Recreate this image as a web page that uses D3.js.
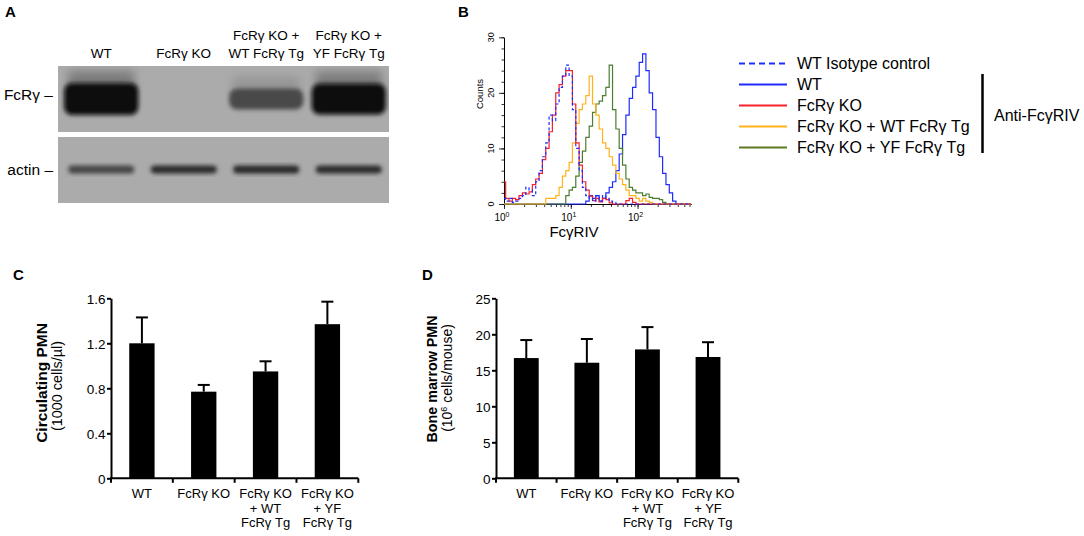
<!DOCTYPE html>
<html>
<head>
<meta charset="utf-8">
<script src="https://cdn.jsdelivr.net/npm/d3@7"></script>
<style>
  body { margin: 0; background: #fff; }
  text { font-family: "Liberation Sans", Arial, sans-serif; fill: #000; }
</style>
</head>
<body>
<div id="fig"></div>
<script>
// ---------- data ----------
// A: western blot lanes and band strength (0 = none, 1 = saturated)
const lanes = ["WT", "FcRγ KO", "FcRγ KO + WT FcRγ Tg", "FcRγ KO + YF FcRγ Tg"];
const laneLabels = [["WT"], ["FcRγ KO"], ["FcRγ KO +", "WT FcRγ Tg"], ["FcRγ KO +", "YF FcRγ Tg"]];
const fcrgBand = [1.0, 0, 0.45, 0.95];
const actinBand = [0.62, 0.78, 0.8, 0.78];

// B: flow histogram, bin centres (fluorescence) and counts per series
const flowBins = [1.00, 1.12, 1.26, 1.41, 1.58, 1.78, 2.00, 2.24, 2.51, 2.82,
  3.16, 3.55, 3.98, 4.47, 5.01, 5.62, 6.31, 7.08, 7.94, 8.91,
  10.0, 11.2, 12.6, 14.1, 15.8, 17.8, 20.0, 22.4, 25.1, 28.2,
  31.6, 35.5, 39.8, 44.7, 50.1, 56.2, 63.1, 70.8, 79.4, 89.1,
  100, 112, 126, 141, 158, 178, 200, 224, 251, 282,
  316, 355, 398, 447, 501, 562, 631];
const isotypeCounts = [1, 0.5, 1, 0.3, 0.5, 1, 1.5, 3, 2.5, 1.5,
  4, 6, 8.5, 11, 16, 15, 18, 21, 23, 25,
  23, 17, 10, 6, 3, 1.5, 1, 0.5, 1.5, 0.5,
  1.5, 1, 0.5, 0.3, 0, 0, 0, 0, 0, 0,
  0, 0, 0, 0, 0, 0, 0, 0, 0, 0,
  0, 0, 0, 0, 0, 0, 0];
const wtCounts = [0, 0, 0, 0, 0, 0, 0, 0, 0, 0,
  0, 0, 0, 0, 0, 0, 0, 0, 0, 0,
  0, 0, 0, 0, 0, 0.5, 1.5, 1, 1.5, 0.5,
  1, 2, 3, 4, 6, 9, 12.5, 16, 19, 21,
  23, 25.5, 27, 24, 20, 17, 12, 8.5, 5.5, 3.5,
  2, 0.5, 0, 0, 0, 0, 0];
const koCounts = [4, 1, 0.5, 1, 0.8, 1.5, 2, 1.8, 2.2, 3.5,
  4.5, 5.5, 8, 10, 13, 16, 20, 21.5, 23, 24,
  24, 18, 11, 7, 4, 2.5, 1.4, 0.6, 1, 0.4,
  1, 0.8, 0.2, 0, 0, 0, 0, 0.6, 1, 0.3,
  0, 0, 0, 0, 0, 0, 0, 0, 0, 0,
  0, 0, 0, 0, 0, 0, 0];
const wtTgCounts = [0, 0, 0, 0, 0, 0, 0, 0, 0, 0,
  0, 0, 0, 1, 1, 1, 1.5, 3, 5, 6,
  7.5, 11, 14.5, 17, 18, 19.5, 23, 18, 16, 13.5,
  11, 10, 8.5, 7, 5.5, 4.5, 3.5, 2.5, 1.5, 1.5,
  1, 0.5, 1, 0.5, 0.3, 0, 0, 0, 0, 0,
  0, 0, 0, 0, 0, 0, 0];
const yfTgCounts = [0, 0, 0, 0, 0, 0, 0, 0, 0, 0,
  0, 0, 0, 0, 0, 0, 0, 0, 0, 1.5,
  2.5, 3, 5, 7.5, 9.5, 12, 14, 16.5, 18, 18.5,
  19.5, 21, 25, 17, 13.5, 10, 7, 4.5, 3, 2.5,
  2, 2, 1.5, 1.8, 1.2, 1, 1, 0.8, 0.3, 0,
  0, 0, 0, 0, 0, 0, 0];
const legendLabels = ["WT Isotype control", "WT", "FcRγ KO", "FcRγ KO + WT FcRγ Tg", "FcRγ KO + YF FcRγ Tg"];

// C and D: PMN counts, mean and upper error
const groups = ["WT", "FcRγ KO", "FcRγ KO + WT FcRγ Tg", "FcRγ KO + YF FcRγ Tg"];
const groupLabels = [["WT"], ["FcRγ KO"], ["FcRγ KO", "+ WT", "FcRγ Tg"], ["FcRγ KO", "+ YF", "FcRγ Tg"]];
const bloodPMN = [1.2, 0.77, 0.95, 1.37];
const bloodPMNErr = [0.23, 0.06, 0.09, 0.2];
const bloodTicks = [0, 0.4, 0.8, 1.2, 1.6];
const marrowPMN = [16.7, 16.05, 17.9, 16.85];
const marrowPMNErr = [2.5, 3.3, 3.1, 2.05];
const marrowTicks = [0, 5, 10, 15, 20, 25];

// ---------- figure ----------
const svg = d3.select("#fig").append("svg")
    .attr("width", 1084)
    .attr("height", 536)
    .style("background", "#fff");

const defs = svg.append("defs");
defs.append("filter").attr("id", "blur")
    .attr("x", "-20%").attr("y", "-40%").attr("width", "140%").attr("height", "180%")
    .append("feGaussianBlur").attr("stdDeviation", 2);
defs.append("filter").attr("id", "haze")
    .attr("x", "-30%").attr("y", "-80%").attr("width", "160%").attr("height", "260%")
    .append("feGaussianBlur").attr("stdDeviation", 5);

// panel letters
[["A", 5, 17], ["B", 458, 17], ["C", 13, 280], ["D", 422, 280]].forEach(p => {
    svg.append("text")
        .attr("x", p[1]).attr("y", p[2])
        .style("font-size", "15px").style("font-weight", "bold")
        .text(p[0]);
});

// ---------- A: western blot ----------
const blotGray = "#ababab";
const bandColor = d3.interpolateRgb(blotGray, "#070707");
const laneX = d3.scaleBand().domain(lanes).range([60, 390]);
const blot = svg.append("g");

defs.append("clipPath").attr("id", "clipTop")
    .append("rect").attr("x", 58).attr("y", 66).attr("width", 331).attr("height", 66);
defs.append("clipPath").attr("id", "clipBottom")
    .append("rect").attr("x", 58).attr("y", 137).attr("width", 331).attr("height", 66);

blot.append("rect").attr("x", 58).attr("y", 66).attr("width", 331).attr("height", 66).attr("fill", blotGray);
blot.append("rect").attr("x", 58).attr("y", 137).attr("width", 331).attr("height", 66).attr("fill", blotGray);

const topBands = blot.append("g").attr("clip-path", "url(#clipTop)");
lanes.forEach((lane, i) => {
    const v = fcrgBand[i];
    if (v <= 0) return;
    const cx = laneX(lane) + laneX.bandwidth() / 2;
    const w = laneX.bandwidth() * 0.9;
    const h = 12 + 20 * v;
    // faint smear above the band
    topBands.append("rect")
        .attr("x", cx - w / 2 + 4).attr("y", 99 - h / 2 - 12)
        .attr("width", w - 8).attr("height", 16)
        .attr("fill", bandColor(v * 0.3))
        .attr("filter", "url(#haze)");
    topBands.append("rect")
        .attr("x", cx - w / 2).attr("y", 99 - h / 2)
        .attr("width", w).attr("height", h)
        .attr("rx", 8)
        .attr("fill", bandColor(v * 0.72 + 0.28))
        .attr("filter", "url(#blur)");
});

const bottomBands = blot.append("g").attr("clip-path", "url(#clipBottom)");
lanes.forEach((lane, i) => {
    const cx = laneX(lane) + laneX.bandwidth() / 2;
    const w = laneX.bandwidth() * 0.8;
    bottomBands.append("rect")
        .attr("x", cx - w / 2).attr("y", 165.5)
        .attr("width", w).attr("height", 8)
        .attr("rx", 4)
        .attr("fill", bandColor(actinBand[i]))
        .attr("filter", "url(#blur)");
});

laneLabels.forEach((lines, i) => {
    const cx = laneX(lanes[i]) + laneX.bandwidth() / 2;
    lines.forEach((t, j) => {
        svg.append("text")
            .attr("x", cx)
            .attr("y", 58 - (lines.length - 1 - j) * 18)
            .attr("text-anchor", "middle")
            .style("font-size", "13.5px")
            .text(t);
    });
});

svg.append("text").attr("x", 53).attr("y", 100).attr("text-anchor", "end")
    .style("font-size", "15.5px").text("FcRγ –");
svg.append("text").attr("x", 53).attr("y", 175).attr("text-anchor", "end")
    .style("font-size", "15.5px").text("actin –");

// ---------- B: flow histogram ----------
const fx = d3.scaleLog().domain([1, 631]).range([504, 691]);
const fy = d3.scaleLinear().domain([0, 30]).range([204, 37.3]);
const flow = svg.append("g");

flow.append("g")
    .attr("transform", "translate(0,204)")
    .call(d3.axisBottom(fx).tickValues(fx.ticks()).tickSize(3).tickFormat("").tickSizeOuter(0));
flow.append("g")
    .attr("transform", "translate(0,204)")
    .call(d3.axisBottom(fx).tickValues([1, 10, 100]).tickSize(5).tickFormat("").tickSizeOuter(0));
flow.append("g")
    .attr("transform", "translate(504,0)")
    .call(d3.axisLeft(fy).tickValues(d3.range(0, 31, 2)).tickSize(2.5).tickFormat("").tickSizeOuter(0));
flow.append("g")
    .attr("transform", "translate(504,0)")
    .call(d3.axisLeft(fy).tickValues([0, 10, 20, 30]).tickSize(5).tickFormat("").tickSizeOuter(0));
flow.selectAll(".domain").attr("stroke-width", 1);
flow.selectAll(".tick line").attr("stroke-width", 0.8);

[0, 10, 20, 30].forEach(v => {
    flow.append("text")
        .attr("transform", `translate(494,${fy(v)}) rotate(-90)`)
        .attr("text-anchor", "middle")
        .style("font-size", "9px")
        .text(v);
});
[[1, 0], [10, 1], [100, 2]].forEach(([v, e]) => {
    const t = flow.append("text")
        .attr("x", fx(v) - 2).attr("y", 221)
        .attr("text-anchor", "middle")
        .style("font-size", "10px");
    t.append("tspan").text("10");
    t.append("tspan").attr("dy", -4).style("font-size", "7px").text(e);
});
flow.append("text")
    .attr("transform", "translate(483,94) rotate(-90)")
    .attr("text-anchor", "middle")
    .style("font-size", "9.5px")
    .text("Counts");
flow.append("text")
    .attr("x", 574).attr("y", 237)
    .attr("text-anchor", "middle")
    .style("font-size", "15px")
    .text("FcγRIV");

const histLine = d3.line()
    .x((d, i) => fx(flowBins[i]))
    .y(d => fy(d))
    .curve(d3.curveStep);

const flowSeries = [
    { counts: wtCounts, color: "#1f2cff", dash: null },
    { counts: yfTgCounts, color: "#4b7d33", dash: null },
    { counts: wtTgCounts, color: "#ffb31a", dash: null },
    { counts: koCounts, color: "#f5212b", dash: null },
    { counts: isotypeCounts, color: "#1f2cff", dash: "3,2.5" }
];
flow.selectAll(".hist")
    .data(flowSeries)
    .enter().append("path")
    .attr("class", "hist")
    .attr("d", d => histLine(d.counts))
    .attr("fill", "none")
    .attr("stroke", d => d.color)
    .attr("stroke-width", 1.2)
    .attr("stroke-dasharray", d => d.dash);

// legend
const legendStyle = [
    { color: "#1f2cff", dash: "6,4" },
    { color: "#1f2cff", dash: null },
    { color: "#f5212b", dash: null },
    { color: "#ffb31a", dash: null },
    { color: "#5b7a22", dash: null }
];
const legendY = d3.scalePoint().domain(legendLabels).range([63.5, 147.5]);
const legend = svg.selectAll(".legend")
    .data(legendLabels)
    .enter().append("g")
    .attr("class", "legend")
    .attr("transform", d => `translate(0,${legendY(d)})`);
legend.append("line")
    .attr("x1", 739).attr("x2", 787)
    .attr("stroke", (d, i) => legendStyle[i].color)
    .attr("stroke-width", 2)
    .attr("stroke-dasharray", (d, i) => legendStyle[i].dash);
legend.append("text")
    .attr("x", 797).attr("y", 5.8)
    .style("font-size", "16px")
    .text(d => d);

svg.append("line")
    .attr("x1", 982.5).attr("x2", 982.5)
    .attr("y1", 74).attr("y2", 153)
    .attr("stroke", "#000").attr("stroke-width", 2.5);
svg.append("text")
    .attr("x", 994).attr("y", 121)
    .style("font-size", "16px")
    .text("Anti-FcγRIV");

// ---------- C and D: bar charts ----------
function barPanel(opt) {
    const g = svg.append("g");
    const x = d3.scaleBand().domain(groups).range([opt.left, opt.right]);
    const y = d3.scaleLinear().domain([0, opt.max]).range([478.3, 298.3]);
    const barW = x.bandwidth() * 0.41;

    g.selectAll(".bar")
        .data(opt.values)
        .enter().append("rect")
        .attr("class", "bar")
        .attr("x", (d, i) => x(groups[i]) + x.bandwidth() / 2 - barW / 2)
        .attr("y", d => y(d))
        .attr("width", barW)
        .attr("height", d => y(0) - y(d))
        .attr("fill", "#000");

    // error bars (upper only)
    opt.values.forEach((v, i) => {
        const cx = x(groups[i]) + x.bandwidth() / 2;
        g.append("line")
            .attr("x1", cx).attr("x2", cx)
            .attr("y1", y(v)).attr("y2", y(v + opt.errs[i]))
            .attr("stroke", "#000").attr("stroke-width", 2);
        g.append("line")
            .attr("x1", cx - 6).attr("x2", cx + 6)
            .attr("y1", y(v + opt.errs[i])).attr("y2", y(v + opt.errs[i]))
            .attr("stroke", "#000").attr("stroke-width", 2);
    });

    const yAxis = g.append("g")
        .attr("transform", `translate(${opt.left},0)`)
        .call(d3.axisLeft(y).tickValues(opt.ticks).tickSize(4).tickPadding(1.5)
            .tickSizeOuter(0).tickFormat(opt.format));
    yAxis.selectAll("text").style("font-size", "13.5px").attr("dy", "0.36em");
    yAxis.selectAll("line, path").attr("stroke-width", 2);

    // x axis line with ticks at group boundaries
    g.append("line")
        .attr("x1", opt.left - 1).attr("x2", opt.right)
        .attr("y1", y(0)).attr("y2", y(0))
        .attr("stroke", "#000").attr("stroke-width", 2);
    groups.map(d => x(d)).concat([opt.right]).forEach(bx => {
        g.append("line")
            .attr("x1", bx).attr("x2", bx)
            .attr("y1", y(0)).attr("y2", y(0) + 4.5)
            .attr("stroke", "#000").attr("stroke-width", 2);
    });

    groupLabels.forEach((lines, i) => {
        const cx = x(groups[i]) + x.bandwidth() / 2;
        lines.forEach((t, j) => {
            g.append("text")
                .attr("x", cx).attr("y", 498.3 + j * 14.2)
                .attr("text-anchor", "middle")
                .style("font-size", "13px")
                .text(t);
        });
    });

    g.append("text")
        .attr("transform", `translate(${opt.titleX},${opt.titleY}) rotate(-90)`)
        .attr("text-anchor", "middle")
        .style("font-size", opt.titleSize).style("font-weight", "bold")
        .text(opt.title);
    const sub = g.append("text")
        .attr("transform", `translate(${opt.titleX + 15},${opt.subY}) rotate(-90)`)
        .attr("text-anchor", "middle")
        .style("font-size", opt.subSize);
    opt.subtitle(sub);
}

barPanel({
    left: 111, right: 358.3, max: 1.6,
    values: bloodPMN, errs: bloodPMNErr, ticks: bloodTicks,
    format: d => d === 0 ? "0" : d3.format(".1f")(d),
    titleX: 47, titleY: 383, subY: 386, titleSize: "15.5px", subSize: "14.4px",
    title: "Circulating PMN",
    subtitle: t => t.text("(1000 cells/µl)")
});

barPanel({
    left: 496, right: 738.3, max: 25,
    values: marrowPMN, errs: marrowPMNErr, ticks: marrowTicks,
    format: d => d,
    titleX: 436.5, titleY: 379, subY: 378, titleSize: "14.3px", subSize: "14px",
    title: "Bone marrow PMN",
    subtitle: t => {
        t.append("tspan").text("(10");
        t.append("tspan").attr("dy", -5).style("font-size", "9px").text("6");
        t.append("tspan").attr("dy", 5).text(" cells/mouse)");
    }
});
</script>
</body>
</html>
